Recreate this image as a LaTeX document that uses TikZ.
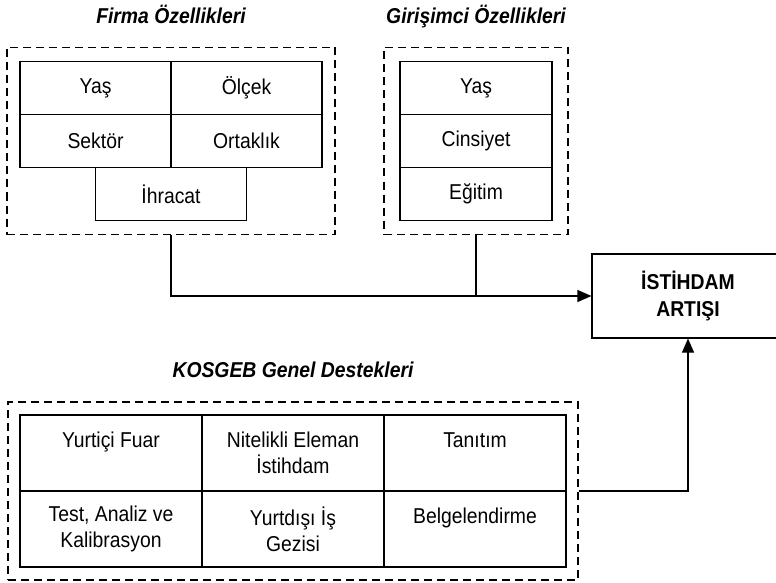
\documentclass[tikz,border=0pt]{standalone}
\usepackage{fontspec}
\setmainfont{Liberation Sans}[FakeStretch=0.9]
\usetikzlibrary{positioning,fit,arrows.meta}
\tikzset{
cell/.style={draw, line width=1.1pt, outer sep=0pt, inner sep=0pt, align=center,
  font=\fontsize{21.5}{26}\selectfont},
fcell/.style={cell, minimum width=151pt, minimum height=53pt},
gcell/.style={cell, minimum width=152pt, minimum height=53pt},
kcell/.style={cell, minimum width=182pt, minimum height=76pt},
frame/.style={draw, dash pattern=on 8pt off 5pt, line width=1.1pt, inner sep=13pt},
title/.style={font=\fontsize{21.5}{24}\selectfont\bfseries\itshape, text depth=0pt},
result/.style={draw, line width=1.1pt, align=center,
  font=\fontsize{21.5}{27}\selectfont\bfseries, minimum width=192pt, minimum height=84pt},
link/.style={line width=1.1pt},
arr/.style={link, -{Triangle[length=14pt,width=12pt]}}
}

\begin{document}
\begin{tikzpicture}[x=1pt,y=-1pt]
\useasboundingbox (0,0) rectangle (776,583);

% firma
\node[fcell] (fyas) at (95.5,88) {Yaş};
\node[fcell, right=0pt of fyas] (olcek) {Ölçek};
\node[fcell, below=0pt of fyas] (sektor) {Sektör};
\node[fcell, right=0pt of sektor] (ortaklik) {Ortaklık};
\node[fcell, below=0pt of sektor.south east] (ihracat) {İhracat};
\node[frame, fit=(fyas)(ortaklik)(ihracat), inner ysep=14pt] (firma) {};
\node[title, above=20pt of firma] (firmat) {Firma Özellikleri};

% girisimci
\node[gcell] (gyas) at (476,88) {Yaş};
\node[gcell, below=0pt of gyas] (cinsiyet) {Cinsiyet};
\node[gcell, below=0pt of cinsiyet] (egitim) {Eğitim};
\node[frame, fit=(gyas)(egitim), inner xsep=16pt, inner ysep=14pt] (girisim) {};
\node[title, above=20pt of girisim] (girisimt) {Girişimci Özellikleri};

% kosgeb
\node[kcell] (yurtici) at (111,453) {Yurtiçi Fuar\\\mbox{}};
\node[kcell, right=0pt of yurtici] (nitelikli) {Nitelikli Eleman\\İstihdam};
\node[kcell, right=0pt of nitelikli] (tanitim) {Tanıtım\\\mbox{}};
\node[kcell, below=0pt of yurtici] (test) {Test, Analiz ve\\Kalibrasyon};
\node[kcell, right=0pt of test] (yurtdisi) {Yurtdışı İş\\Gezisi};
\node[kcell, right=0pt of yurtdisi] (belge) {Belgelendirme\\\mbox{}};
\node[frame, fit=(yurtici)(belge), inner xsep=12pt] (kosgeb) {};
\node[title, above=20pt of kosgeb] (kosgebt) {KOSGEB Genel Destekleri};

\node[result] (istihdam) at (688,296) {İSTİHDAM\\ARTIŞI};

\draw[arr] (firma.south) |- (istihdam.west);
\draw[link] (girisim.south) -- (girisim.south |- istihdam.west);
\draw[arr] (kosgeb.east) -| (istihdam.south);
\end{tikzpicture}
\end{document}
